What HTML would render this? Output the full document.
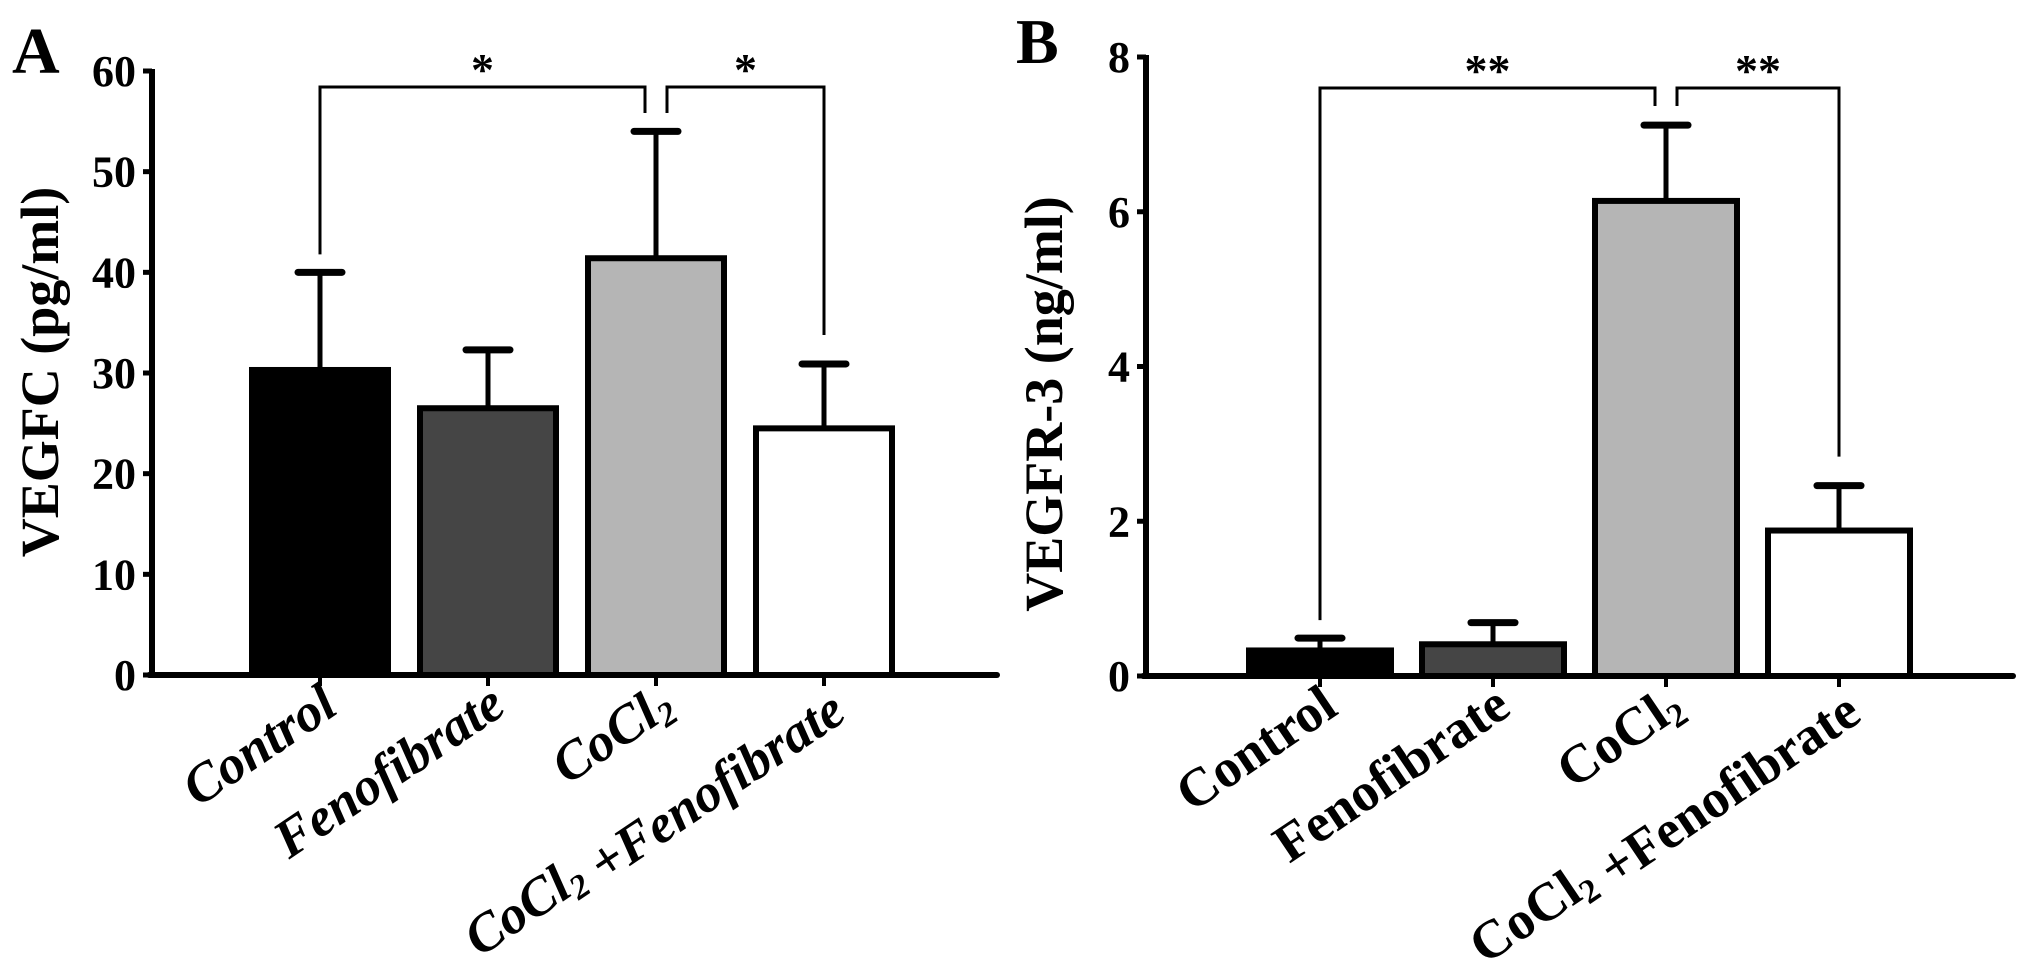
<!DOCTYPE html>
<html><head><meta charset="utf-8"><style>
html,body{margin:0;padding:0;background:#fff;}
svg{display:block;font-family:"Liberation Serif",serif;font-weight:bold;}
</style></head><body>
<svg id="chart" width="2031" height="968" viewBox="0 0 2031 968" xmlns="http://www.w3.org/2000/svg">
<text x="12" y="73" font-size="66">A</text>
<text x="1016" y="63" font-size="64">B</text>
<text transform="translate(58,372) rotate(-90)" text-anchor="middle" font-size="54">VEGFC (pg/ml)</text>
<text transform="translate(1062,404) rotate(-90)" text-anchor="middle" font-size="54">VEGFR-3 (ng/ml)</text>
<g id="pa"></g>
<g id="pb"></g>
</svg>
<script>
const categories = ["Control", "Fenofibrate", "CoCl2", "CoCl2 +Fenofibrate"];
const fills = ["#000000", "#454545", "#b5b5b5", "#ffffff"];
const aMeans = [30.3, 26.5, 41.4, 24.5];
const aErrors = [9.7, 5.8, 12.6, 6.4];
const aTicks = [0, 10, 20, 30, 40, 50, 60];
const bMeans = [0.33, 0.41, 6.14, 1.88];
const bErrors = [0.16, 0.28, 0.98, 0.58];
const bTicks = [0, 2, 4, 6, 8];
const aSig = [[0, 2, "*"], [2, 3, "*"]];
const bSig = [[0, 2, "**"], [2, 3, "**"]];

const NS = "http://www.w3.org/2000/svg";
function mk(parent, tag, attrs, text) {
  const e = document.createElementNS(NS, tag);
  for (const k in attrs) e.setAttribute(k, attrs[k]);
  if (text !== undefined) e.textContent = text;
  parent.appendChild(e);
  return e;
}
function addLabel(g, txt, x, y, italic) {
  const t = mk(g, "text", {transform: `translate(${x},${y}) rotate(-34)`, "text-anchor": "end", "font-size": 54, "font-style": italic ? "italic" : "normal"});
  
  
  const parts = txt.split("CoCl2");
  parts.forEach((p, i) => {
    if (i > 0) {
      mk(t, "tspan", {}, "CoCl");
      mk(t, "tspan", {"font-size": 34, dy: 8}, "2");
      mk(t, "tspan", {dy: -8}, "");
    }
    if (p) mk(t, "tspan", {}, p);
  });
}
function panel(gid, cfg) {
  const g = document.getElementById(gid);
  const y = v => cfg.y0 - v / cfg.max * (cfg.y0 - cfg.yTop);
  const cx = i => cfg.x0 + i * cfg.step;
  cfg.means.forEach((m, i) => {
    const x = cx(i), hw = cfg.bw / 2;
    const el = mk(g, "line", {x1: x, x2: x, y1: y(m), y2: y(m + cfg.errs[i]), stroke: "#000", "stroke-width": 5});
    
    
    const cap = mk(g, "line", {x1: x - 22, x2: x + 22, y1: y(m + cfg.errs[i]), y2: y(m + cfg.errs[i]), stroke: "#000", "stroke-width": 7, "stroke-linecap": "round"});
    
    
    const r = mk(g, "rect", {x: x - hw, y: y(m), width: cfg.bw, height: cfg.y0 - y(m), fill: cfg.fills[i], stroke: "#000", "stroke-width": 6});
    
    
    const tk = mk(g, "line", {x1: x, x2: x, y1: cfg.y0, y2: cfg.y0 + 11, stroke: "#000", "stroke-width": 4});
    
    
    addLabel(g, categories[i], x + 20, cfg.y0 + 37, cfg.italic);
  });
  const ya = mk(g, "line", {x1: cfg.axX, x2: cfg.axX, y1: y(cfg.max) - 2, y2: cfg.y0 + 2, stroke: "#000", "stroke-width": 6});
  
  
  const xa = mk(g, "line", {x1: cfg.axX - 3, x2: cfg.axEnd, y1: cfg.y0, y2: cfg.y0, stroke: "#000", "stroke-width": 6, "stroke-linecap": "round"});
  
  
  cfg.ticks.forEach(t => {
    const l = mk(g, "line", {x1: cfg.axX - 9, x2: cfg.axX, y1: y(t), y2: y(t), stroke: "#000", "stroke-width": 5});
    
    
    const tx = mk(g, "text", {x: cfg.axX - 16, y: y(t) + 15, "text-anchor": "end", "font-size": 44}, String(t));
    
    
  });
  const top = cfg.brY;
  cfg.sig.forEach(([a, b, s], k) => {
    const xa1 = cx(a) + (k === 1 ? 11 : 0), xb1 = cx(b) - (k === 0 ? 11 : 0);
    const ya1 = a === 2 ? cfg.brInner : y(cfg.means[a] + cfg.errs[a]) - 18;
    const yb1 = b === 2 ? cfg.brInner : y(cfg.means[b] + cfg.errs[b]) - 29;
    const p = mk(g, "path", {d: `M${xa1},${ya1} V${top} H${xb1} V${yb1}`, fill: "none", stroke: "#000", "stroke-width": 3});
    
    
    const st = mk(g, "text", {x: (xa1 + xb1) / 2, y: top - 2, "text-anchor": "middle", "font-size": 46}, s);
    
    
  });
}
panel("pa", {means: aMeans, errs: aErrors, ticks: aTicks, max: 60, y0: 675, yTop: 71, x0: 320, step: 168, bw: 136, axX: 152, axEnd: 997, fills: fills, sig: aSig, brY: 87, brInner: 113, italic: true});
panel("pb", {means: bMeans, errs: bErrors, ticks: bTicks, max: 8, y0: 676, yTop: 57, x0: 1320, step: 173, bw: 142, axX: 1146, axEnd: 2013, fills: fills, sig: bSig, brY: 88, brInner: 106, italic: false});
</script>
</body></html>
